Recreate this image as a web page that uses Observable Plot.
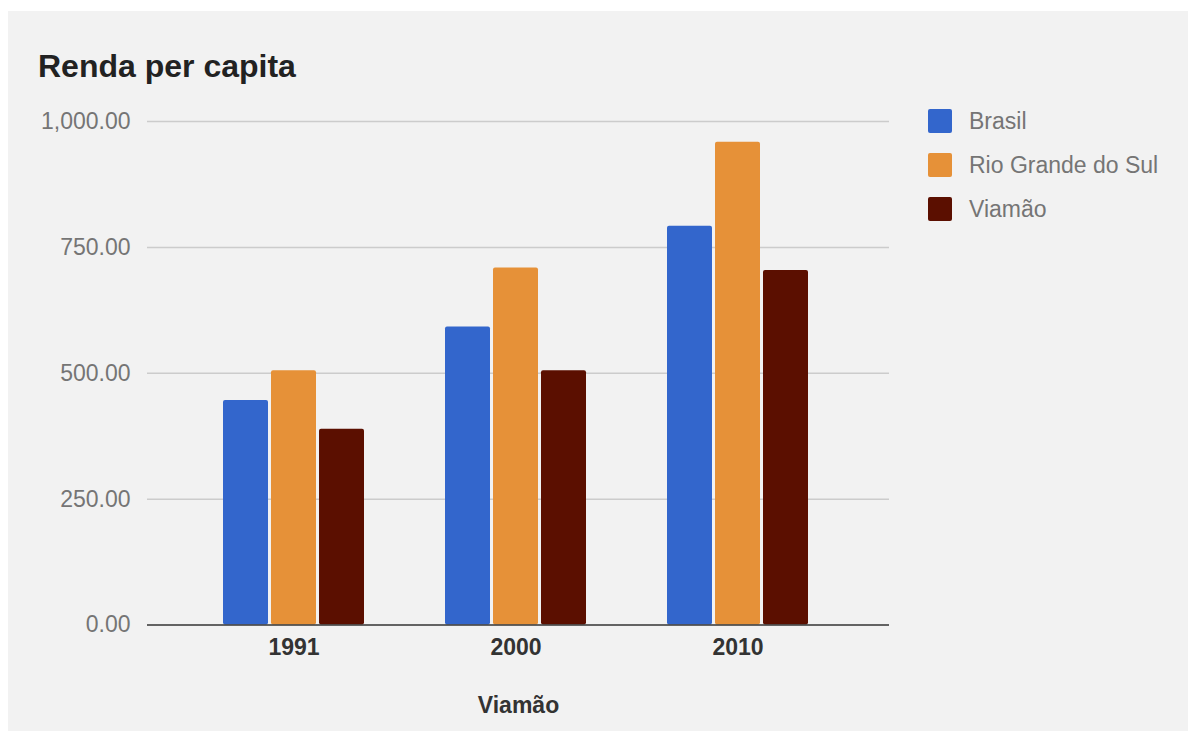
<!DOCTYPE html>
<html>
<head>
<meta charset="utf-8">
<script src="https://cdn.jsdelivr.net/npm/d3@7"></script>
<script src="https://cdn.jsdelivr.net/npm/@observablehq/plot@0.6"></script>
<style>
  html, body { margin: 0; padding: 0; background: #ffffff; }
  body { width: 1188px; height: 731px; overflow: hidden; position: relative; font-family: "Liberation Sans", Arial, sans-serif; }
  #panel { position: absolute; left: 8px; top: 11px; width: 1180px; height: 720px; background: #f2f2f2; }
  #title { position: absolute; left: 30px; top: 40px; font-size: 32px; line-height: 31px; font-weight: bold; color: #222; white-space: nowrap; }
  #chart { position: absolute; left: 0; top: 84px; }
  #legend { position: absolute; left: 920px; top: 98px; }
  .item { position: relative; height: 44px; }
  .sw { position: absolute; left: 0; top: 0; width: 24px; height: 24px; border-radius: 2px; }
  .lab { position: absolute; left: 41px; top: 0; font-size: 23px; line-height: 24px; color: #757575; white-space: nowrap; }
</style>
</head>
<body>
<div id="panel">
  <div id="title">Renda per capita</div>
  <div id="chart"></div>
  <div id="legend"></div>
</div>
<script>
const years = ["1991", "2000", "2010"];
const seriesNames = ["Brasil", "Rio Grande do Sul", "Viamão"];
const brasil = [446, 592, 792];
const rioGrandeDoSul = [505, 709, 959];
const viamao = [389, 505, 704];
const seriesColors = ["#3366cc", "#e69138", "#5b0f00"];
const yTicks = [0, 250, 500, 750, 1000];
const xAxisTitle = "Viamão";

const valuesBySeries = [brasil, rioGrandeDoSul, viamao];
const rows = [];
seriesNames.forEach((s, si) => years.forEach((y, yi) => rows.push({year: y, series: s, value: valuesBySeries[si][yi]})));

const fmt = d3.format(",.2f");
const offsets = [-48, 0, 48];

const plot = Plot.plot({
  width: 1180,
  height: 636,
  marginLeft: 139,
  marginRight: 299,
  marginTop: 26,
  marginBottom: 106.5,
  style: { background: "transparent", fontFamily: "Liberation Sans, Arial, sans-serif" },
  x: { domain: years, paddingInner: 0.797, paddingOuter: 0.568, align: 0.49, label: null },
  y: { domain: [0, 1000], label: null },
  color: { domain: seriesNames, range: seriesColors },
  marks: [
    Plot.ruleY(yTicks.filter(d => d > 0), { stroke: "#cccccc", strokeWidth: 1.5 }),
    ...seriesNames.map((s, i) =>
      Plot.barY(rows.filter(r => r.series === s), { x: "year", y: "value", fill: "series", dx: offsets[i], rx: 2 })
    ),
    Plot.ruleY([0], { stroke: "#333333", strokeWidth: 1.5 }),
    Plot.axisY({ ticks: yTicks, tickFormat: fmt, tickSize: 0, tickPadding: 17, fontSize: 23, color: "#757575", label: null }),
    Plot.axisX({ tickSize: 0, tickPadding: 14, fontSize: 23, fontWeight: "bold", color: "#333333", label: null }),
    Plot.text([xAxisTitle], { frameAnchor: "bottom", dy: 88, text: d => d, fontSize: 23, fontWeight: "bold", fill: "#333333" })
  ]
});
document.getElementById("chart").appendChild(plot);

const legend = document.getElementById("legend");
seriesNames.forEach((s, i) => {
  const item = document.createElement("div");
  item.className = "item";
  item.innerHTML = `<div class="sw" style="background:${seriesColors[i]}"></div><div class="lab">${s}</div>`;
  legend.appendChild(item);
});
</script>
</body>
</html>
